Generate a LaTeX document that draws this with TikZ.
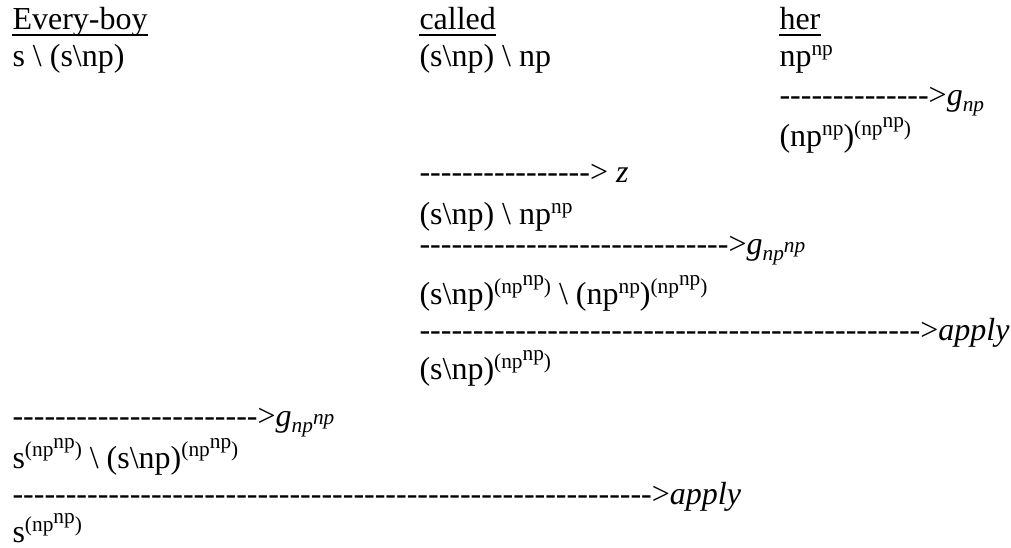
\documentclass[tikz,border=0pt]{standalone}
\usepackage{fontspec}
\setmainfont{Liberation Serif}[Ligatures=TeXOff]
\newcommand{\up}[1]{\raisebox{0.36em}{\fontsize{8pt}{8pt}\selectfont #1}}
\newcommand{\dn}[1]{\raisebox{-0.17em}{\fontsize{8pt}{8pt}\selectfont\itshape #1}}
\newcommand{\bs}{\textbackslash}
\newcommand{\hy}[1]{\foreach \k in {1,...,#1}{-}}

\begin{document}
\begin{tikzpicture}[x=0.375pt,y=-0.375pt]
	\useasboundingbox (0,0) rectangle (1011,548);
	\begin{scope}[every node/.style={anchor=base west,inner sep=0pt,font=\fontsize{12pt}{14pt}\selectfont}]
	% words
	\node (L) at (12,30) {Every-boy};
	\node (M) at (419,30) {called};
	\node (R) at (779,30) {her};
	% left column
	\node (L1) at (12,67) {s \bs{} (s\bs np)};
	\node (L2) at (12,427) {\hy{23}>\textit{g}\dn{np\up{np}}};
	\node (L3) at (12,468) {s\up{(np\up{np})} \bs{} (s\bs np)\up{(np\up{np})}};
	\node (L4) at (12,505) {\hy{60}>\textit{apply}};
	\node (L5) at (12,543) {s\up{(np\up{np})}};
	% middle column
	\node (M1) at (419,67) {(s\bs np) \bs{} np};
	\node (M2) at (419,183) {\hy{16}> \textit{z}};
	\node (M3) at (419,225) {(s\bs np) \bs{} np\up{np}};
	\node (M4) at (419,255) {\hy{29}>\textit{g}\dn{np\up{np}}};
	\node (M5) at (419,305) {(s\bs np)\up{(np\up{np})} \bs{} (np\up{np})\up{(np\up{np})}};
	\node (M6) at (419,341) {\hy{47}>\textit{apply}};
	\node (M7) at (419,380) {(s\bs np)\up{(np\up{np})}};
	% right column
	\node (R1) at (779,67) {np\up{np}};
	\node (R2) at (779,106) {\hy{14}>\textit{g}\dn{np}};
	\node (R3) at (779,147) {(np\up{np})\up{(np\up{np})}};
	\end{scope}
	\draw [line width=0.6pt] ([yshift=-1.9pt]L.base west) -- ([yshift=-1.9pt]L.base east);
	\draw [line width=0.6pt] ([yshift=-1.9pt]M.base west) -- ([yshift=-1.9pt]M.base east);
	\draw [line width=0.6pt] ([yshift=-1.9pt]R.base west) -- ([yshift=-1.9pt]R.base east);
\end{tikzpicture}
\end{document}
